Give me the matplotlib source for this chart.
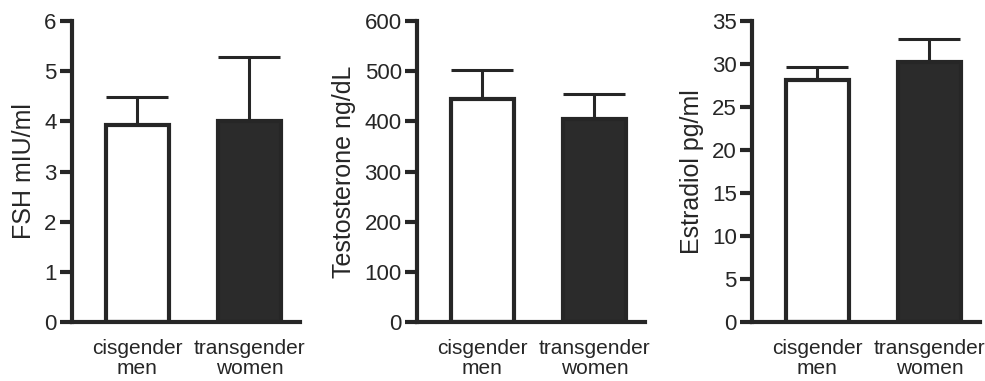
import matplotlib.pyplot as plt

plt.rcParams['font.family'] = ['Liberation Sans', 'DejaVu Sans']

groups = ['cisgender\nmen', 'transgender\nwomen']
fsh = [3.93, 4.01]
fsh_err = [0.56, 1.27]
testo = [445, 405]
testo_err = [57, 49]
estra = [28.1, 30.2]
estra_err = [1.5, 2.7]

panels = [
    (fsh, fsh_err, 'FSH mIU/ml', 6, 1, 72),
    (testo, testo_err, 'Testosterone ng/dL', 600, 100, 417),
    (estra, estra_err, 'Estradiol pg/ml', 35, 5, 752),
]

W, H = 985, 381
ink = '#262626'
fig = plt.figure(figsize=(W / 100, H / 100), dpi=100)

for vals, errs, label, top, step, left in panels:
    ax = fig.add_axes([left / W, 59 / H, 228 / W, 301 / H])
    x = [0, 1]
    ax.bar(x, vals, width=0.56, color=['white', '#2b2b2b'], edgecolor=ink,
           linewidth=3, zorder=2)
    ax.errorbar(x, vals, yerr=[[0, 0], errs], fmt='none', ecolor=ink,
                elinewidth=2.2, capsize=22, capthick=2.2, zorder=1)
    ax.set_xlim(-0.58, 1.45)
    ax.set_ylim(0, top)
    ax.set_yticks(range(0, top + 1, step))
    ax.set_xticks(x)
    ax.set_xticklabels(groups, fontsize=15, color=ink, linespacing=1.1)
    ax.tick_params(axis='x', length=0, pad=12)
    ax.tick_params(axis='y', length=9, width=3, color=ink, labelsize=16,
                   labelcolor=ink, pad=2)
    ax.set_ylabel(label, fontsize=18, color=ink, labelpad=6)
    for s in ['top', 'right']:
        ax.spines[s].set_visible(False)
    for s in ['left', 'bottom']:
        ax.spines[s].set_linewidth(3)
        ax.spines[s].set_color(ink)
        ax.spines[s].set_zorder(3)

fig.savefig('out.png', dpi=100)
